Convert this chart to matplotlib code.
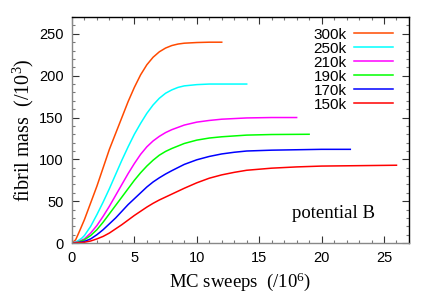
import numpy as np
import matplotlib.pyplot as plt
from matplotlib.ticker import MultipleLocator

# MC sweeps (/10^6) and fibril mass (/10^3)
x300 = [0, 0.3, 0.6, 1, 1.5, 2, 2.5, 3, 3.5, 4, 4.5, 5, 5.5, 6, 6.5, 7, 7.5, 8, 8.5, 9, 10, 11, 12]
y300 = [0, 4, 14, 28, 48, 68, 90, 112, 131, 150, 169, 186, 201, 213, 222, 228.5, 233, 236, 237.8, 238.8, 239.6, 240, 240]

x250 = [0, 0.4, 0.8, 1, 1.5, 2, 2.5, 3, 3.5, 4, 4.5, 5, 5.5, 6, 6.5, 7, 7.5, 8, 8.5, 9, 10, 11, 12, 14]
y250 = [0, 2, 6, 9, 20, 34, 49, 65, 82, 99, 115, 130, 143, 155, 165, 173, 179, 183, 186, 187.8, 189.3, 190, 190, 190]

x210 = [0, 0.5, 1, 1.5, 2, 2.5, 3, 3.5, 4, 4.5, 5, 5.5, 6, 6.5, 7, 7.5, 8, 9, 10, 11, 12, 14, 16, 18]
y210 = [0, 1.5, 5, 12, 21, 32, 44, 57, 70, 83, 95, 106, 115, 122, 127.5, 132, 135.5, 141, 144.5, 146.5, 148, 149.5, 150, 150]

x190 = [0, 0.5, 1, 1.5, 2, 2.5, 3, 3.5, 4, 4.5, 5, 5.5, 6, 6.5, 7, 7.5, 8, 9, 10, 11, 12, 14, 16, 19]
y190 = [0, 1, 4, 9, 16, 25, 35, 45, 55, 65, 75, 84, 92, 99, 105, 109.5, 113, 119, 123, 125.5, 127, 129, 129.7, 130]

x170 = [0, 0.5, 1, 1.5, 2, 2.5, 3, 3.5, 4, 4.5, 5, 5.5, 6, 6.5, 7, 7.5, 8, 9, 10, 11, 12, 13, 14, 16, 18, 20, 22.3]
y170 = [0, 0.5, 2, 5, 10, 16, 23, 30, 38, 46, 53, 60, 67, 73, 78, 82.5, 86.5, 94, 99.5, 103.5, 106.5, 108.5, 110, 111, 111.5, 112, 112]

x150 = [0, 0.5, 1, 1.5, 2, 2.5, 3, 3.5, 4, 4.5, 5, 5.5, 6, 6.5, 7, 7.5, 8, 9, 10, 11, 12, 13, 14, 16, 18, 20, 23, 26]
y150 = [0, 0.3, 1, 2.5, 5, 8, 12, 17, 22, 27.5, 33, 38, 43, 47.5, 51.5, 55, 58.5, 65.5, 72, 77.5, 81.5, 84.5, 87, 89.5, 91, 92, 92.5, 93]

series = [
    ('300k', x300, y300, '#ff4a00'),
    ('250k', x250, y250, '#00ffff'),
    ('210k', x210, y210, '#ff00ff'),
    ('190k', x190, y190, '#00ff00'),
    ('170k', x170, y170, '#0000ff'),
    ('150k', x150, y150, '#ff0000'),
]

plt.rcParams['font.family'] = 'Liberation Sans'
plt.rcParams['mathtext.fontset'] = 'custom'
plt.rcParams['mathtext.rm'] = 'Liberation Serif'
plt.rcParams['mathtext.it'] = 'Liberation Serif:italic'

fig = plt.figure(figsize=(4.36, 3.05), dpi=100)
ax = fig.add_axes([0.165, 0.203, 0.773, 0.741])

for lab, xs, ys, c in series:
    ax.plot(xs, ys, color=c, lw=1.1, label=lab)

ax.set_xlim(0, 27)
ax.set_ylim(0, 270)
ax.xaxis.set_major_locator(MultipleLocator(5))
ax.xaxis.set_minor_locator(MultipleLocator(1))
ax.yaxis.set_major_locator(MultipleLocator(50))
ax.yaxis.set_minor_locator(MultipleLocator(10))
ax.tick_params(which='both', direction='in', top=True, right=True, labelsize=10.5, width=0.8)
ax.tick_params(which='major', length=5, pad=6, color='#333333')
ax.tick_params(which='minor', length=2.5, color='#777777')
for s in ax.spines.values():
    s.set_linewidth(1.0)
ax.spines['left'].set_color('#888888')
ax.spines['bottom'].set_color('#888888')

ax.set_xlabel(r'MC sweeps  (/10$^6$)', family='Liberation Serif', fontsize=13.5, labelpad=4)
ax.set_ylabel(r'fibril mass  (/10$^3$)', family='Liberation Serif', fontsize=14.5, labelpad=2)

ax.text(0.776, 0.13, 'potential B', transform=ax.transAxes, family='Liberation Serif',
        fontsize=13.5, ha='center', va='center')

leg = ax.legend(loc='upper right', bbox_to_anchor=(0.985, 1.0), frameon=False, fontsize=11,
                markerfirst=False, handlelength=2.55, handletextpad=0.5, labelspacing=0.0,
                borderpad=0.2)

fig.savefig('out.png', dpi=100)
